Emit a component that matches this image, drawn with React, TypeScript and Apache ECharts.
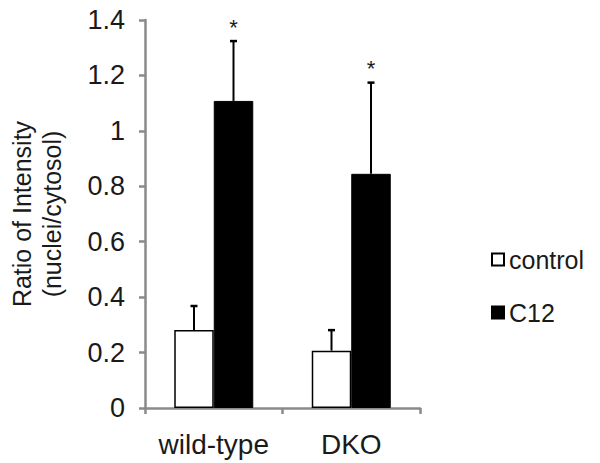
import React, { useEffect, useRef } from "react";
import * as echarts from "echarts";

const categories = ["wild-type", "DKO"];
const controlValues = [0.281, 0.207];
const c12Values = [1.108, 0.845];
const controlErrors = [0.087, 0.074];
const c12Errors = [0.216, 0.329];
const c12Significance = ["*", "*"];
const yTicks = { min: 0, max: 1.4, interval: 0.2 };

const FONT = "'Liberation Sans', Arial, sans-serif";
const TEXT = "#1a1a1a";
const AXIS = "#8a8a8a";
const BAR_W = 39.5;

function errorSeries(name: string, values: number[], errors: number[], offsetSign: number, marks?: string[]) {
  const data = values.map((v, i) => [i, v, errors[i]]);
  return {
    type: "custom",
    name: name + "-err",
    silent: true,
    z: 5,
    data,
    encode: { x: 0, y: 1 },
    renderItem: (params: any, api: any) => {
      const idx = api.value(0);
      const v = api.value(1);
      const e = api.value(2);
      const mark = marks ? marks[params.dataIndex] : "";
      const base = api.coord([idx, v]);
      const top = api.coord([idx, v + e]);
      const x = base[0] + offsetSign * (BAR_W / 2);
      const children: any[] = [
        {
          type: "line",
          shape: { x1: x, y1: base[1], x2: x, y2: top[1] },
          style: { stroke: "#000", lineWidth: 2 },
        },
        {
          type: "line",
          shape: { x1: x - 3.5, y1: top[1], x2: x + 3.5, y2: top[1] },
          style: { stroke: "#000", lineWidth: 2.5 },
        },
      ];
      if (mark) {
        children.push({
          type: "text",
          x: x,
          y: top[1] - 14,
          style: {
            text: mark,
            fill: TEXT,
            font: `22px ${FONT}`,
            textAlign: "center",
            textVerticalAlign: "middle",
          },
        });
      }
      return { type: "group", children };
    },
  };
}

export default function App() {
  const ref = useRef<HTMLDivElement>(null);
  useEffect(() => {
    if (!ref.current) return;
    const chart = echarts.init(ref.current, undefined, { renderer: "svg" });
    chart.setOption({
      animation: false,
      backgroundColor: "#fff",
      textStyle: { fontFamily: FONT },
      grid: { left: 145, right: 180, top: 20, bottom: 55, containLabel: false, outerBoundsMode: "none" },
      legend: {
        orient: "vertical",
        left: 491,
        top: 247,
        padding: 0,
        itemGap: 28,
        itemWidth: 12,
        itemHeight: 12,
        icon: "rect",
        textStyle: { fontSize: 25, color: TEXT, fontFamily: FONT },
        data: ["control", "C12"],
      },
      xAxis: {
        type: "category",
        data: categories,
        axisLine: { lineStyle: { color: AXIS, width: 2.5 } },
        axisTick: { show: true, length: 6, lineStyle: { color: AXIS, width: 2.5 } },
        axisLabel: { fontSize: 28, color: TEXT, margin: 22, fontFamily: FONT, interval: 0 },
      },
      yAxis: {
        type: "value",
        min: yTicks.min,
        max: yTicks.max,
        interval: yTicks.interval,
        name: "Ratio of Intensity\n(nuclei/cytosol)",
        nameLocation: "middle",
        nameGap: 78,
        nameTextStyle: { fontSize: 25, color: TEXT, lineHeight: 30, fontFamily: FONT },
        splitLine: { show: false },
        axisLine: { show: true, lineStyle: { color: AXIS, width: 2.5 } },
        axisTick: { show: true, length: 6, lineStyle: { color: AXIS, width: 2.5 } },
        axisLabel: { fontSize: 27, color: TEXT, margin: 20, fontFamily: FONT },
      },
      series: [
        {
          type: "bar",
          name: "control",
          data: controlValues,
          barWidth: BAR_W,
          barGap: "0%",
          itemStyle: { color: "#fff", borderColor: "#000", borderWidth: 1.5 },
        },
        {
          type: "bar",
          name: "C12",
          data: c12Values,
          barWidth: BAR_W,
          barGap: "0%",
          itemStyle: { color: "#000", borderColor: "#000", borderWidth: 1 },
        },
        errorSeries("control", controlValues, controlErrors, -1),
        errorSeries("C12", c12Values, c12Errors, 1, c12Significance),
      ],
    });
    return () => chart.dispose();
  }, []);
  return <div ref={ref} style={{ width: 600, height: 463, position: "absolute", left: 0, top: 0 }} />;
}
